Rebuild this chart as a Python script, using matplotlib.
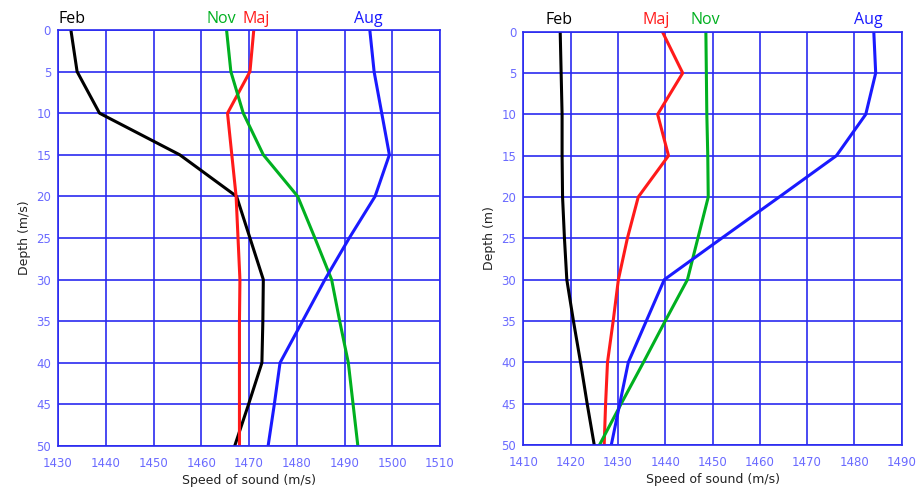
import matplotlib.pyplot as plt

# depths (m)
depth = [0, 5, 10, 15, 20, 25, 30, 35, 40, 45, 50]

# left panel, speed of sound (m/s)
feb_l = [1432.7, 1434.0, 1438.7, 1455.5, 1467.4, 1470.2, 1473.0, 1472.9, 1472.7, 1469.9, 1467.0]
maj_l = [1471.0, 1470.2, 1465.5, 1466.4, 1467.3, 1467.7, 1468.1, 1468.0, 1468.0, 1468.0, 1468.0]
nov_l = [1465.3, 1466.2, 1468.8, 1473.0, 1480.2, 1483.8, 1487.3, 1489.0, 1490.8, 1491.8, 1492.8]
aug_l = [1495.3, 1496.2, 1497.8, 1499.4, 1496.4, 1491.0, 1485.9, 1481.2, 1476.5, 1475.3, 1474.0]

# right panel
feb_r = [1417.8, 1418.0, 1418.2, 1418.2, 1418.3, 1418.7, 1419.2, 1420.6, 1422.1, 1423.5, 1425.0]
maj_r = [1439.4, 1443.7, 1438.4, 1440.7, 1434.3, 1432.0, 1430.1, 1429.0, 1427.8, 1427.4, 1427.1]
nov_r = [1448.6, 1448.7, 1448.8, 1449.0, 1449.1, 1446.9, 1444.7, 1440.0, 1435.4, 1430.7, 1426.1]
aug_r = [1484.1, 1484.5, 1482.4, 1476.2, 1464.1, 1451.9, 1439.8, 1436.0, 1432.2, 1430.4, 1428.6]

grid_c = '#2a2af0'
tick_c = '#6a6aff'
cols = {'Feb': 'black', 'Maj': '#ff1a1a', 'Nov': '#00b020', 'Aug': '#1a1aff'}

fig = plt.figure(figsize=(9.17, 4.88), dpi=100)
ax1 = fig.add_axes([58 / 917, 1 - 446 / 488, 382 / 917, 416 / 488])
ax2 = fig.add_axes([523.3 / 917, 1 - 445 / 488, 378.4 / 917, 413.3 / 488])


def setup(ax, xmin, xmax, ylab):
    ax.set_xlim(xmin, xmax)
    ax.set_ylim(50, 0)
    ax.set_xticks(range(xmin, xmax + 1, 10))
    ax.set_yticks(range(0, 51, 5))
    ax.grid(True, color=grid_c, linewidth=1.2)
    ax.set_axisbelow(True)
    for s in ax.spines.values():
        s.set_color(grid_c)
        s.set_linewidth(1.2)
    ax.tick_params(length=0, colors=tick_c, labelsize=8.5)
    ax.tick_params(axis='x', pad=8)
    ax.tick_params(axis='y', pad=5)
    ax.set_xlabel('Speed of sound (m/s)', fontsize=9, color='#222222', labelpad=3)
    ax.set_ylabel(ylab, fontsize=9, color='#222222', labelpad=4)


setup(ax1, 1430, 1510, 'Depth (m/s)')
setup(ax2, 1410, 1490, 'Depth (m)')

lw = 2.2
ax1.plot(feb_l, depth, color=cols['Feb'], lw=lw)
ax1.plot(maj_l, depth, color=cols['Maj'], lw=lw)
ax1.plot(nov_l, depth, color=cols['Nov'], lw=lw)
ax1.plot(aug_l, depth, color=cols['Aug'], lw=lw)

ax2.plot(feb_r, depth, color=cols['Feb'], lw=lw)
ax2.plot(maj_r, depth, color=cols['Maj'], lw=lw)
ax2.plot(nov_r, depth, color=cols['Nov'], lw=lw)
ax2.plot(aug_r, depth, color=cols['Aug'], lw=lw)

# month labels above the plots
lab_l = {'Feb': 1432.9, 'Nov': 1464.2, 'Maj': 1471.5, 'Aug': 1495.0}
lab_r = {'Feb': 1417.5, 'Maj': 1438.0, 'Nov': 1448.5, 'Aug': 1483.0}
for ax, labs in ((ax1, lab_l), (ax2, lab_r)):
    for name, xv in labs.items():
        ax.text(xv, -0.4, name, color=cols[name], fontsize=11.5, ha='center',
                va='bottom', family='Open Sans')

fig.savefig('out.png', dpi=100)
